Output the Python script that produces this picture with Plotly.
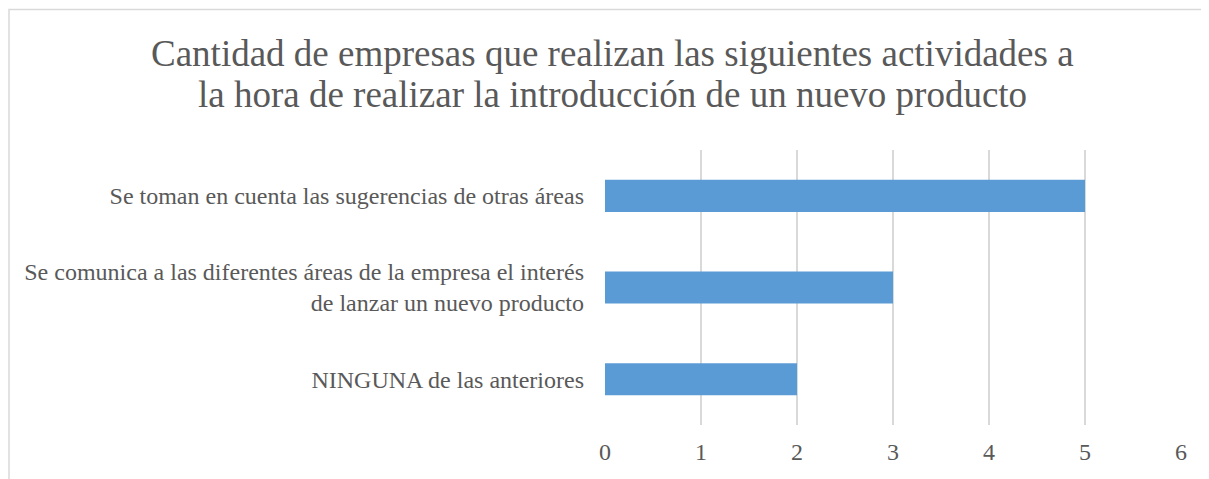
import plotly.graph_objects as go

categories = [
    "NINGUNA de las anteriores",
    "Se comunica a las diferentes áreas de la empresa el interés<br>de lanzar un nuevo producto",
    "Se toman en cuenta las sugerencias de otras áreas",
]
values = [2, 3, 5]
x_ticks = [0, 1, 2, 3, 4, 5, 6]
title_lines = [
    "Cantidad de empresas que realizan las siguientes actividades a",
    "la hora de realizar la introducción de un nuevo producto",
]

# figure is drawn at an 8px page offset; dimensions in figure pixels
W, H = 1201, 471
L, R, T, B = 597, 28, 142, 54
pw, ph = W - L - R, H - T - B

def px_to_paper_x(px):
    return (px - L) / pw

def px_to_paper_y(py):
    return (H - B - py) / ph

font_family = "Liberation Serif, Times New Roman, serif"
text_color = "#595959"

fig = go.Figure(
    go.Bar(
        x=values,
        y=categories,
        orientation="h",
        marker=dict(color="#5B9BD5", line=dict(width=0)),
        hoverinfo="x+y",
    )
)

annotations = []
for i, line in enumerate(title_lines):
    annotations.append(
        dict(
            text=line,
            xref="paper",
            yref="paper",
            x=px_to_paper_x(604),
            y=px_to_paper_y(46 + 40 * i),
            xanchor="center",
            yanchor="middle",
            showarrow=False,
            font=dict(family=font_family, size=37, color=text_color),
        )
    )

fig.update_layout(
    width=W,
    height=H,
    margin=dict(l=L, r=R, t=T, b=B),
    paper_bgcolor="white",
    plot_bgcolor="white",
    bargap=0.65,
    showlegend=False,
    font=dict(family=font_family, color=text_color),
    annotations=annotations,
    xaxis=dict(
        range=[0, 6],
        tickvals=x_ticks,
        showgrid=True,
        gridcolor="#d9d9d9",
        gridwidth=1.5,
        zeroline=False,
        showline=False,
        ticks="",
        tickfont=dict(family=font_family, size=24, color=text_color),
        ticklabelstandoff=10,
        fixedrange=True,
    ),
    yaxis=dict(
        showgrid=False,
        zeroline=False,
        showline=False,
        ticks="",
        tickfont=dict(family=font_family, size=24, color=text_color),
        ticklabelstandoff=20,
        fixedrange=True,
    ),
    shapes=[
        dict(
            type="rect",
            xref="paper",
            yref="paper",
            x0=px_to_paper_x(1),
            x1=px_to_paper_x(1230),
            y0=px_to_paper_y(500),
            y1=px_to_paper_y(1.5),
            line=dict(color="#d9d9d9", width=1.5),
            fillcolor="rgba(0,0,0,0)",
            layer="below",
        )
    ],
)

fig.write_html("out.html")
